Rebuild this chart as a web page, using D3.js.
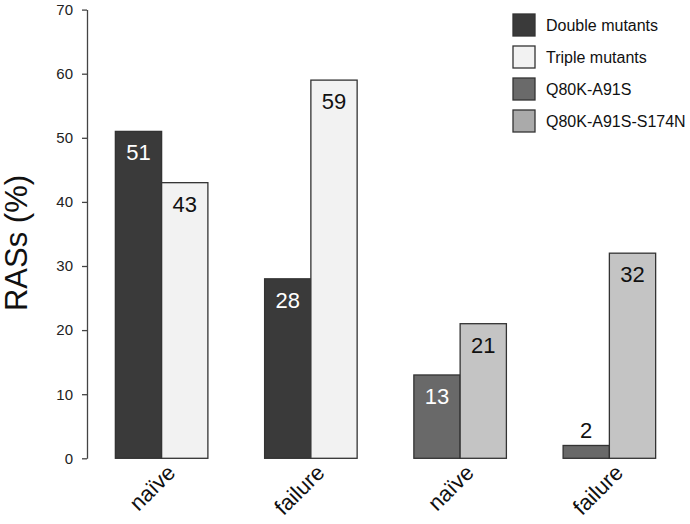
<!DOCTYPE html>
<html>
<head>
<meta charset="utf-8">
<script src="https://cdn.jsdelivr.net/npm/d3@7"></script>
<style>
  body { margin: 0; background: #fff; }
  text { font-family: Arial, "Liberation Sans", sans-serif; }
</style>
</head>
<body>
<div id="chart"></div>
<script>
// Grouped bars: double vs triple mutants, then Q80K subtypes

// Data
var groups = [ 'naïve', 'failure', 'naïve', 'failure' ];
var darkValues = [ 51, 28, 13, 2 ];
var lightValues = [ 43, 59, 21, 32 ];
var legendLabels = [ 'Double mutants', 'Triple mutants', 'Q80K-A91S', 'Q80K-A91S-S174N' ];
var yTicks = [ 0, 10, 20, 30, 40, 50, 60, 70 ];

// Fill colours per group (dark bar, light bar)
var darkFill = [ '#3a3a3a', '#3a3a3a', '#696969', '#696969' ];
var lightFill = [ '#f2f2f2', '#f2f2f2', '#c4c4c4', '#c4c4c4' ];
var legendFill = [ '#3a3a3a', '#f2f2f2', '#6a6a6a', '#aaaaaa' ];

var width = 690;
var height = 524;

var svg = d3.select( '#chart' ).append( 'svg' )
  .attr( 'width', width )
  .attr( 'height', height );

// Scales
var x = d3.scaleBand()
  .domain( d3.range( groups.length ) )
  .range( [ 87, 684 ] )
  .paddingInner( 0.38 )
  .paddingOuter( 0.19 );

var xSub = d3.scaleBand()
  .domain( [ 0, 1 ] )
  .range( [ 0, x.bandwidth() ] );

var y = d3.scaleLinear()
  .domain( [ 0, 70 ] )
  .range( [ 458.3, 9.6 ] );

// Y axis
var yAxis = svg.append( 'g' )
  .attr( 'transform', 'translate(87,0)' )
  .call( d3.axisLeft( y ).tickValues( yTicks ).tickSize( 5 ).tickPadding( 9 ).tickSizeOuter( 0 ) );
yAxis.select( '.domain' ).attr( 'stroke', '#444' ).attr( 'stroke-width', 1.3 );
yAxis.selectAll( '.tick line' ).attr( 'stroke', '#444' ).attr( 'stroke-width', 1.3 );
yAxis.selectAll( '.tick text' )
  .attr( 'fill', '#222' )
  .style( 'font-size', '15px' )
  .style( 'font-family', 'Arial, "Liberation Sans", sans-serif' );

// Y title
svg.append( 'text' )
  .attr( 'transform', 'translate(27,243) rotate(-90)' )
  .attr( 'text-anchor', 'middle' )
  .style( 'font-size', '31px' )
  .attr( 'fill', '#111' )
  .text( 'RASs (%)' );

// Bars
var bars = [];
groups.forEach( function( g, i ) {
  bars.push( { group: i, sub: 0, value: darkValues[ i ], fill: darkFill[ i ] } );
  bars.push( { group: i, sub: 1, value: lightValues[ i ], fill: lightFill[ i ] } );
} );

svg.append( 'g' ).selectAll( 'rect' )
  .data( bars )
  .enter().append( 'rect' )
  .attr( 'x', function( d ) { return x( d.group ) + xSub( d.sub ); } )
  .attr( 'y', function( d ) { return y( d.value ); } )
  .attr( 'width', xSub.bandwidth() )
  .attr( 'height', function( d ) { return y( 0 ) - y( d.value ); } )
  .attr( 'fill', function( d ) { return d.fill; } )
  .attr( 'stroke', '#333' )
  .attr( 'stroke-width', 1.3 );

// Value labels: inside near the top, or above when the bar is too short
svg.append( 'g' ).selectAll( 'text' )
  .data( bars )
  .enter().append( 'text' )
  .attr( 'x', function( d ) { return x( d.group ) + xSub( d.sub ) + xSub.bandwidth() / 2; } )
  .attr( 'y', function( d ) {
    return d.value < 5 ? y( d.value ) - 7 : y( d.value ) + 29;
  } )
  .attr( 'text-anchor', 'middle' )
  .style( 'font-size', '22px' )
  .attr( 'fill', function( d ) {
    if ( d.value < 5 ) return '#111';
    return d.sub === 0 ? '#fff' : '#111';
  } )
  .text( function( d ) { return d.value; } );

// Category labels, rotated 45 degrees, right end just under the group
svg.append( 'g' ).selectAll( 'text' )
  .data( groups )
  .enter().append( 'text' )
  .attr( 'transform', function( d, i ) {
    var cx = x( i ) + x.bandwidth() / 2;
    return 'translate(' + ( cx + 15 ) + ',474) rotate(-45)';
  } )
  .attr( 'text-anchor', 'end' )
  .style( 'font-size', '22px' )
  .attr( 'fill', '#111' )
  .text( function( d ) { return d; } );

// Legend
var legend = svg.append( 'g' ).selectAll( 'g' )
  .data( legendLabels )
  .enter().append( 'g' )
  .attr( 'transform', function( d, i ) { return 'translate(513,' + ( 14 + i * 32 ) + ')'; } );

legend.append( 'rect' )
  .attr( 'width', 22 )
  .attr( 'height', 22 )
  .attr( 'fill', function( d, i ) { return legendFill[ i ]; } )
  .attr( 'stroke', '#333' )
  .attr( 'stroke-width', 1.3 );

legend.append( 'text' )
  .attr( 'x', 33 )
  .attr( 'y', 17 )
  .style( 'font-size', '16px' )
  .attr( 'fill', '#111' )
  .text( function( d ) { return d; } );
</script>
</body>
</html>
